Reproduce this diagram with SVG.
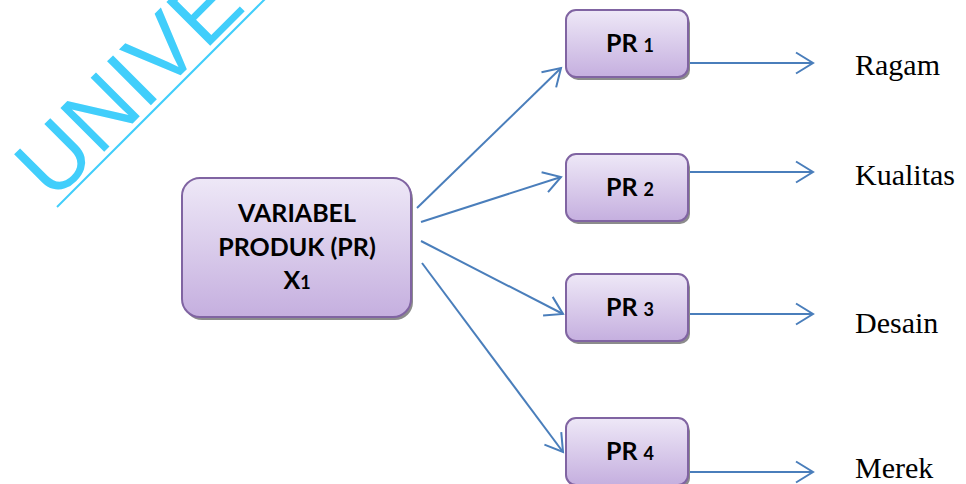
<svg xmlns="http://www.w3.org/2000/svg" width="966" height="484" viewBox="0 0 966 484">
  <defs>
    <linearGradient id="boxFill" x1="0" y1="0" x2="0" y2="1">
      <stop offset="0" stop-color="#EEE8F7"/>
      <stop offset="1" stop-color="#C5AFDF"/>
    </linearGradient>
    <marker id="arrowOpen" markerUnits="userSpaceOnUse" markerWidth="24" markerHeight="26" viewBox="-20 -13 22 26" refX="0" refY="0" orient="auto">
      <path d="M -17 -10.5 L 0 0 L -17 10.5" fill="none" stroke="#4A7EBB" stroke-width="2"/>
    </marker>
  </defs>
  <style>
    .shadow { fill: #8C8C8C; }
    .box { fill: url(#boxFill); stroke: #8064A2; stroke-width: 2; }
    .boxText { font-family: Lato, "Open Sans", "DejaVu Sans", sans-serif; font-weight: bold; fill: #000; text-anchor: middle; }
    .label { font-family: "Liberation Serif", "Times New Roman", serif; font-size: 30px; fill: #000; }
    .conn { fill: none; stroke: #4A7EBB; stroke-width: 2; marker-end: url(#arrowOpen); }
    .mark { font-family: "Liberation Sans", Arial, sans-serif; font-size: 90px; fill: #41CEFB; }
  </style>

  <!-- watermark -->
  <g id="watermark">
    <text class="mark" transform="translate(53,203) rotate(-45)">UNIVE</text>
    <line x1="57" y1="207" x2="272" y2="-8" stroke="#41CEFB" stroke-width="2"/>
  </g>

  <!-- connectors -->
  <g id="connectors">
    <line class="conn" x1="417" y1="208" x2="561" y2="68"/>
    <line class="conn" x1="421" y1="222" x2="561" y2="177"/>
    <line class="conn" x1="421" y1="241" x2="563" y2="314"/>
    <line class="conn" x1="422" y1="263" x2="563" y2="452"/>
    <line class="conn" x1="690" y1="63" x2="813" y2="63"/>
    <line class="conn" x1="690" y1="172" x2="813" y2="172"/>
    <line class="conn" x1="690" y1="314" x2="813" y2="314"/>
    <line class="conn" x1="690" y1="472" x2="813" y2="472"/>
  </g>

  <!-- main variable -->
  <g id="variabel">
    <rect class="shadow" x="184" y="181" width="229" height="139" rx="18"/>
    <rect class="box" x="182" y="178" width="229" height="139" rx="18"/>
    <text class="boxText" x="297" y="222" font-size="25">VARIABEL</text>
    <text class="boxText" x="297" y="256" font-size="25">PRODUK (PR)</text>
    <text class="boxText" x="297" y="289" font-size="25">X<tspan font-size="18">1</tspan></text>
  </g>

  <g id="pr1">
    <rect class="shadow" x="568" y="13" width="122" height="67" rx="10"/>
    <rect class="box" x="566" y="10" width="122" height="67" rx="10"/>
    <text class="boxText" x="630" y="52" font-size="25">PR <tspan font-size="18">1</tspan></text>
  </g>

  <g id="pr2">
    <rect class="shadow" x="568" y="157" width="122" height="67" rx="10"/>
    <rect class="box" x="566" y="154" width="122" height="67" rx="10"/>
    <text class="boxText" x="630" y="196" font-size="25">PR <tspan font-size="18">2</tspan></text>
  </g>

  <g id="pr3">
    <rect class="shadow" x="568" y="277" width="122" height="67" rx="10"/>
    <rect class="box" x="566" y="274" width="122" height="67" rx="10"/>
    <text class="boxText" x="630" y="316" font-size="25">PR <tspan font-size="18">3</tspan></text>
  </g>

  <g id="pr4">
    <rect class="shadow" x="568" y="421" width="122" height="67" rx="10"/>
    <rect class="box" x="566" y="418" width="122" height="67" rx="10"/>
    <text class="boxText" x="630" y="460" font-size="25">PR <tspan font-size="18">4</tspan></text>
  </g>

  <!-- attribute labels -->
  <g id="ragam"><text class="label" x="855" y="75">Ragam</text></g>
  <g id="kualitas"><text class="label" x="855" y="185">Kualitas</text></g>
  <g id="desain"><text class="label" x="855" y="333">Desain</text></g>
  <g id="merek"><text class="label" x="855" y="478">Merek</text></g>
</svg>
